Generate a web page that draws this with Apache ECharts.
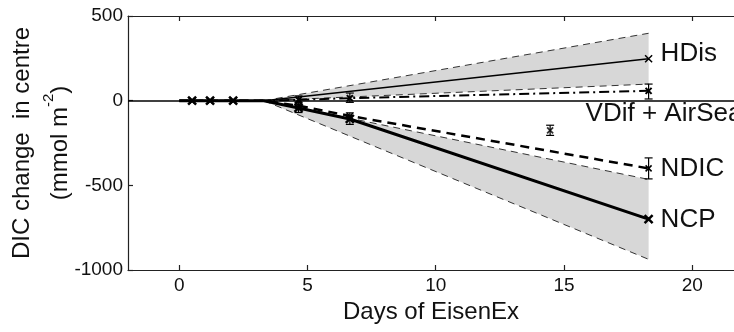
<!DOCTYPE html>
<html>
<head>
<meta charset="utf-8">
<script src="https://cdn.jsdelivr.net/npm/echarts@6/dist/echarts.min.js"></script>
<style>
  html, body { margin: 0; padding: 0; background: #fff; }
  #chart { width: 734px; height: 332px; }
</style>
</head>
<body>
<div id="chart"></div>
<script>
// Budget terms for DIC in the patch centre during EisenEx (mmol m-2)
const dayTicks = [0, 5, 10, 15, 20];

// Days sampled along the budget curves
const budgetDays = [0, 0.5, 1.2, 2.1, 3.3, 4.65, 6.65, 18.3];
const ncpValues = [0, 0, 0, 0, 0, -43, -108, -700];
const ndicValues = [0, 0, 0, 0, 0, -30, -90, -400];
const vdifAirSeaValues = [0, 0, 0, 0, 0, 5, 15, 58];

// Horizontal dispersion estimate and its uncertainty envelope
const hdisDays = [3.3, 18.3];
const hdisValues = [0, 248];
const hdisUpper = [0, 398];
const hdisLower = [0, 98];

// Uncertainty envelope of net community production
const ncpUpper = [0, -465];
const ncpLower = [0, -937];

// Error bars: [day, low, high]
const errorBars = [
  [4.65, -10, 28],
  [6.65, -10, 45],
  [4.65, -70, -15],
  [6.65, -140, -72],
  [14.46, -205, -145],
  [18.3, 10, 98],
  [18.3, -462, -338]
];

// Separate estimate at day 14.5
const extraDay = [14.46];
const extraValue = [-175];

const FONT = '"Liberation Sans", Arial, Helvetica, sans-serif';
const CROSS = 'path://M0,0L10,10M10,0L0,10';
const noMarkDays = [0, 3.3];

function pairs(xs, ys, withMarks) {
  return xs.map((x, i) => {
    const item = { value: [x, ys[i]] };
    if (!withMarks || noMarkDays.includes(x)) item.symbol = 'none';
    return item;
  });
}

const bands = [
  { days: hdisDays, up: hdisUpper, low: hdisLower },
  { days: hdisDays, up: ncpUpper, low: ncpLower }
];

const chart = echarts.init(document.getElementById('chart'), null, { renderer: 'canvas' });

const axisLineStyle = { color: '#222', width: 1.2 };

const option = {
  animation: false,
  backgroundColor: '#fff',
  textStyle: { fontFamily: FONT },
  grid: { left: 128, top: 16, right: 0, bottom: 62, containLabel: false, outerBoundsMode: 'none' },
  xAxis: [
    {
      type: 'value', position: 'bottom', min: -2, max: 21.63,
      splitLine: { show: false },
      axisLine: { onZero: false, lineStyle: axisLineStyle },
      axisTick: { inside: true, length: 5, customValues: dayTicks, lineStyle: axisLineStyle },
      axisLabel: { customValues: dayTicks, fontSize: 19, color: '#111', margin: 6, fontFamily: FONT },
      name: 'Days of EisenEx', nameLocation: 'middle', nameGap: 30, nameMoveOverlap: false,
      nameTextStyle: { fontSize: 24, color: '#111', fontFamily: FONT }
    },
    {
      type: 'value', position: 'top', min: -2, max: 21.63,
      splitLine: { show: false },
      axisLine: { onZero: false, lineStyle: axisLineStyle },
      axisTick: { inside: true, length: 5, customValues: dayTicks, lineStyle: axisLineStyle },
      axisLabel: { show: false }
    }
  ],
  yAxis: {
    type: 'value', min: -1000, max: 500, interval: 500,
    splitLine: { show: false },
    axisLine: { show: true, onZero: false, lineStyle: axisLineStyle },
    axisTick: { show: true, inside: true, length: 5, lineStyle: axisLineStyle },
    axisLabel: { fontSize: 19, color: '#111', margin: 5, fontFamily: FONT, formatter: v => String(v) },
    name: 'DIC change  in centre\n(mmol m{sup|-2})',
    nameLocation: 'middle', nameRotate: 90, nameGap: 49, nameMoveOverlap: false,
    nameTextStyle: {
      fontSize: 24, color: '#111', lineHeight: 38, fontFamily: FONT, align: 'center',
      rich: { sup: { fontSize: 15, verticalAlign: 'top', lineHeight: 38, padding: [0, 0, 10, 0], fontFamily: FONT, color: '#111' } }
    }
  },
  series: [
    {
      name: 'bands', type: 'custom', z: 1, silent: true,
      data: bands.map((b, i) => [b.days[0], b.up[0], i]),
      encode: { x: 0, y: 1 },
      renderItem: function (params, api) {
        const b = bands[api.value(2)];
        const pts = [];
        b.days.forEach((d, i) => pts.push(api.coord([d, b.up[i]])));
        for (let i = b.days.length - 1; i >= 0; i--) pts.push(api.coord([b.days[i], b.low[i]]));
        return { type: 'polygon', shape: { points: pts }, style: { fill: '#d7d7d7', stroke: null } };
      }
    },
    ...[hdisUpper, hdisLower, ncpUpper, ncpLower].map((vals, i) => ({
      name: 'envelope' + i, type: 'line', z: 2, silent: true, symbol: 'none',
      data: pairs(hdisDays, vals, false),
      lineStyle: { color: '#333', width: 1, type: [7, 5] }
    })),
    {
      name: 'HDis', type: 'line', z: 4, symbol: CROSS, symbolSize: 7,
      data: pairs(hdisDays, hdisValues, true),
      lineStyle: { color: '#000', width: 1.5 },
      itemStyle: { color: '#000', borderColor: '#000', borderWidth: 1.5 },
      endLabel: { show: true, formatter: 'HDis', fontSize: 26, color: '#111', distance: 12, offset: [0, -5], fontFamily: FONT }
    },
    {
      name: 'VDif + AirSea', type: 'line', z: 4, symbol: CROSS, symbolSize: 6,
      data: pairs(budgetDays, vdifAirSeaValues, true),
      lineStyle: { color: '#000', width: 2, type: [10, 4, 2, 4] },
      itemStyle: { color: '#000', borderColor: '#000', borderWidth: 2 },
      endLabel: { show: true, formatter: 'VDif + AirSea', fontSize: 26, color: '#111', distance: 12, offset: [-75, 23], fontFamily: FONT }
    },
    {
      name: 'NDIC', type: 'line', z: 4, symbol: CROSS, symbolSize: 6,
      data: pairs(budgetDays, ndicValues, true),
      lineStyle: { color: '#000', width: 2.5, type: [9, 6] },
      itemStyle: { color: '#000', borderColor: '#000', borderWidth: 1.5 },
      endLabel: { show: true, formatter: 'NDIC', fontSize: 26, color: '#111', distance: 12, offset: [0, 0], fontFamily: FONT }
    },
    {
      name: 'NCP', type: 'line', z: 5, symbol: CROSS, symbolSize: 8,
      data: pairs(budgetDays, ncpValues, true),
      lineStyle: { color: '#000', width: 3 },
      itemStyle: { color: '#000', borderColor: '#000', borderWidth: 2.5 },
      endLabel: { show: true, formatter: 'NCP', fontSize: 26, color: '#111', distance: 12, offset: [0, 1], fontFamily: FONT },
      markLine: {
        silent: true, symbol: 'none', label: { show: false },
        lineStyle: { color: '#000', width: 1.5, type: 'solid' },
        data: [{ yAxis: 0 }]
      }
    },
    {
      name: 'estimate', type: 'scatter', z: 5, symbol: CROSS, symbolSize: 6,
      data: extraDay.map((d, i) => [d, extraValue[i]]),
      itemStyle: { color: '#000', borderColor: '#000', borderWidth: 1.8 }
    },
    {
      name: 'errors', type: 'custom', z: 6, silent: true,
      data: errorBars,
      encode: { x: 0, y: [1, 2] },
      renderItem: function (params, api) {
        const lo = api.coord([api.value(0), api.value(1)]);
        const hi = api.coord([api.value(0), api.value(2)]);
        const w = 4;
        const st = { stroke: '#000', lineWidth: 1.2 };
        return {
          type: 'group',
          children: [
            { type: 'line', shape: { x1: lo[0], y1: lo[1], x2: hi[0], y2: hi[1] }, style: st },
            { type: 'line', shape: { x1: lo[0] - w, y1: lo[1], x2: lo[0] + w, y2: lo[1] }, style: st },
            { type: 'line', shape: { x1: hi[0] - w, y1: hi[1], x2: hi[0] + w, y2: hi[1] }, style: st }
          ]
        };
      }
    }
  ]
};

chart.setOption(option);
</script>
</body>
</html>
